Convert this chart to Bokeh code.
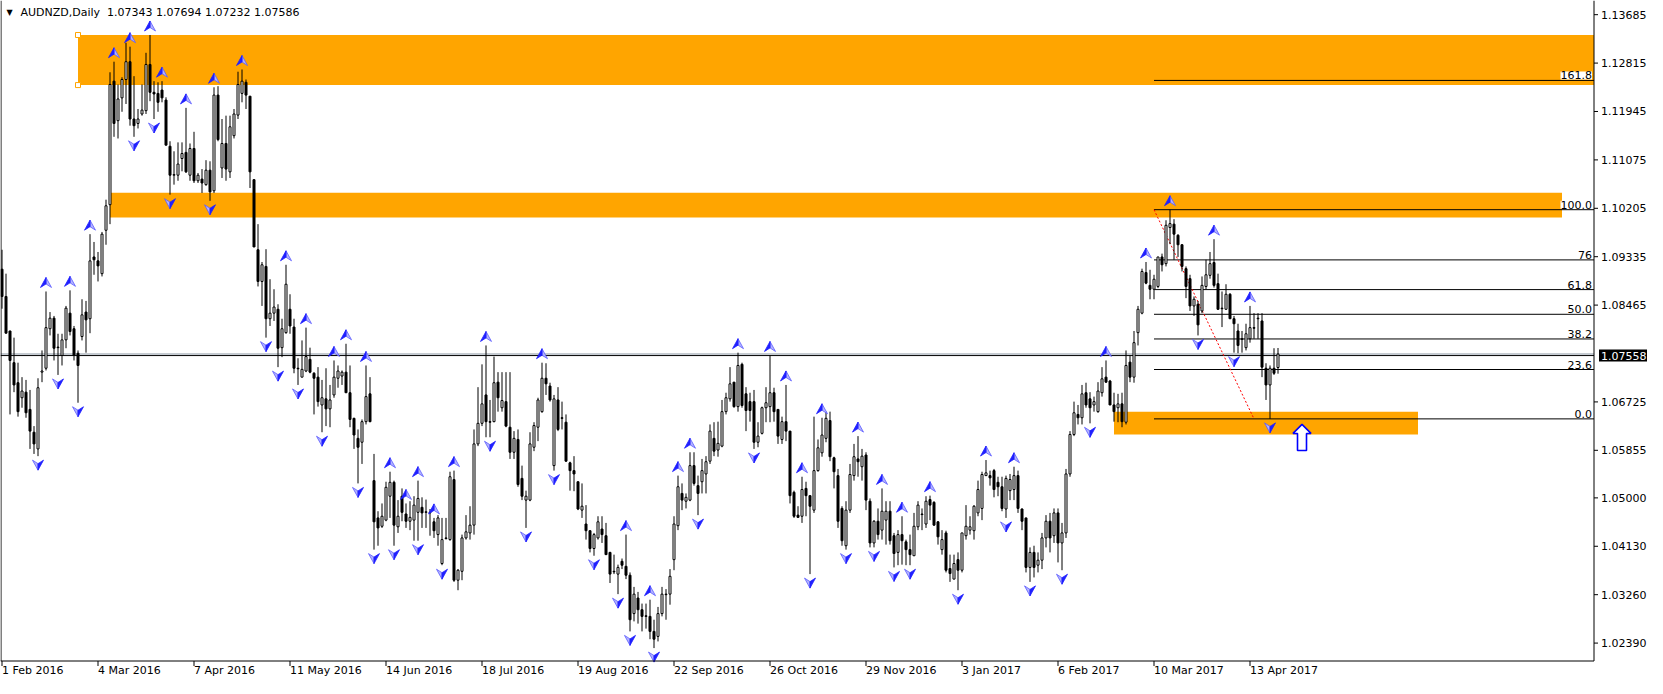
import numpy as np
from bokeh.plotting import figure
from bokeh.models import Range1d, Label, LabelSet, ColumnDataSource
from bokeh.embed import file_html
from bokeh.resources import INLINE
from bokeh.core.properties import value

# ---------------- data (AUDNZD daily) ----------------
opens = [
 1.0911,1.0862,1.0800,1.0743,1.0707,1.0680,1.0690,1.0659,1.0618,1.0588,
 1.0726,1.0733,1.0804,1.0823,1.0771,1.0756,1.0784,1.0832,1.0804,1.0760,
 1.0790,1.0834,1.0822,1.0933,1.0926,1.0903,1.0981,1.1027,1.1249,1.1178,
 1.1219,1.1252,1.1284,1.1181,1.1173,1.1190,1.1196,1.1279,1.1229,1.1227,
 1.1233,1.1215,1.1132,1.1080,1.1080,1.1110,1.1121,1.1080,1.1128,1.1070,
 1.1073,1.1063,1.1089,1.1052,1.1224,1.1093,1.1137,1.1086,1.1151,1.1188,
 1.1227,1.1247,1.1222,1.1072,1.0946,1.0889,1.0916,1.0822,1.0832,1.0839,
 1.0770,1.0797,1.0839,1.0807,1.0733,1.0717,1.0728,1.0749,1.0724,1.0717,
 1.0667,1.0678,1.0660,1.0685,1.0715,1.0719,1.0726,1.0689,1.0643,1.0607,
 1.0600,1.0637,1.0687,1.0531,1.0464,1.0449,1.0460,1.0503,1.0528,1.0448,
 1.0503,1.0471,1.0458,1.0460,1.0474,1.0483,1.0474,1.0474,1.0457,1.0434,
 1.0382,1.0428,1.0425,1.0533,1.0352,1.0368,1.0428,1.0437,1.0451,1.0597,
 1.0634,1.0685,1.0637,1.0637,1.0708,1.0662,1.0673,1.0627,1.0582,1.0605,
 1.0535,1.0496,1.0496,1.0591,1.0627,1.0655,1.0715,1.0701,1.0558,1.0676,
 1.0644,1.0636,1.0563,1.0549,1.0529,1.0478,1.0453,1.0441,1.0409,1.0428,
 1.0444,1.0432,1.0402,1.0368,1.0363,1.0386,1.0377,1.0361,1.0292,1.0320,
 1.0299,1.0288,1.0287,1.0260,1.0251,1.0292,1.0327,1.0327,1.0389,1.0450,
 1.0508,1.0494,1.0496,1.0558,1.0522,1.0529,1.0543,1.0566,1.0607,1.0586,
 1.0593,1.0655,1.0678,1.0708,1.0664,1.0740,1.0687,1.0673,1.0673,1.0600,
 1.0616,1.0662,1.0664,1.0689,1.0659,1.0605,1.0637,1.0620,1.0510,1.0469,
 1.0467,1.0517,1.0504,1.0478,1.0549,1.0581,1.0607,1.0639,1.0572,1.0540,
 1.0481,1.0414,1.0478,1.0540,1.0570,1.0556,1.0577,1.0494,1.0419,1.0458,
 1.0442,1.0460,1.0476,1.0432,1.0402,1.0434,1.0421,1.0407,1.0396,1.0448,
 1.0471,1.0453,1.0497,1.0492,1.0457,1.0407,1.0437,1.0373,1.0354,1.0389,
 1.0370,1.0432,1.0442,1.0441,1.0473,1.0481,1.0540,1.0540,1.0549,1.0528,
 1.0520,1.0480,1.0513,1.0515,1.0540,1.0480,1.0464,1.0375,1.0402,1.0379,
 1.0388,1.0428,1.0458,1.0432,1.0473,1.0419,1.0437,1.0543,1.0614,1.0650,
 1.0644,1.0689,1.0678,1.0667,1.0655,1.0689,1.0717,1.0710,1.0667,1.0662,
 1.0669,1.0636,1.0744,1.0717,1.0797,1.0832,1.0905,1.0882,1.0875,1.0880,
 1.0933,1.0921,1.0986,1.0992,1.0972,1.0955,1.0912,1.0894,1.0845,1.0848,
 1.0836,1.0880,1.0900,1.0923,1.0885,1.0841,1.0839,1.0866,1.0822,1.0800,
 1.0786,1.0770,1.0786,1.0806,1.0822,1.0818,1.0733,1.0703,1.0733,1.07343,
]
highs = [
 1.0946,1.0903,1.0800,1.0788,1.0743,1.0717,1.0712,1.0694,1.0629,1.0715,
 1.0765,1.0871,1.0834,1.0827,1.0795,1.0795,1.0845,1.0873,1.0809,1.0765,
 1.0857,1.0854,1.0974,1.0960,1.0942,1.0978,1.1036,1.1265,1.1284,1.1243,
 1.1256,1.1318,1.1311,1.1258,1.1199,1.1243,1.1300,1.1332,1.1249,1.1247,
 1.1249,1.1220,1.1141,1.1123,1.1139,1.1139,1.1201,1.1137,1.1158,1.1084,
 1.1091,1.1107,1.1105,1.1238,1.1240,1.1181,1.1187,1.1187,1.1199,1.1266,
 1.1270,1.1252,1.1222,1.1072,1.0992,1.0924,1.0947,1.0893,1.0875,1.0848,
 1.0822,1.0919,1.0866,1.0822,1.0751,1.0783,1.0806,1.0770,1.0726,1.0735,
 1.0712,1.0733,1.0703,1.0747,1.0738,1.0729,1.0777,1.0738,1.0644,1.0623,
 1.0641,1.0738,1.0717,1.0579,1.0476,1.0490,1.0529,1.0547,1.0531,1.0496,
 1.0517,1.0490,1.0494,1.0503,1.0531,1.0501,1.0497,1.0480,1.0464,1.0469,
 1.0464,1.0464,1.0547,1.0549,1.0372,1.0434,1.0469,1.0485,1.0623,1.0699,
 1.0740,1.0774,1.0676,1.0754,1.0726,1.0726,1.0726,1.0726,1.0620,1.0623,
 1.0558,1.0513,1.0618,1.0636,1.0680,1.0743,1.0742,1.0707,1.0685,1.0699,
 1.0673,1.0650,1.0565,1.0575,1.0529,1.0526,1.0487,1.0441,1.0437,1.0467,
 1.0467,1.0455,1.0403,1.0398,1.0380,1.0391,1.0434,1.0366,1.0340,1.0331,
 1.0310,1.0310,1.0317,1.0281,1.0304,1.0340,1.0336,1.0372,1.0467,1.0540,
 1.0526,1.0508,1.0582,1.0582,1.0540,1.0570,1.0575,1.0632,1.0636,1.0637,
 1.0676,1.0689,1.0735,1.0708,1.0761,1.0743,1.0699,1.0689,1.0694,1.0636,
 1.0664,1.0699,1.0756,1.0698,1.0659,1.0646,1.0703,1.0620,1.0513,1.0485,
 1.0538,1.0529,1.0504,1.0646,1.0605,1.0644,1.0655,1.0655,1.0574,1.0552,
 1.0485,1.0494,1.0561,1.0597,1.0611,1.0588,1.0582,1.0499,1.0460,1.0481,
 1.0517,1.0494,1.0494,1.0437,1.0442,1.0467,1.0425,1.0434,1.0473,1.0494,
 1.0481,1.0503,1.0504,1.0494,1.0458,1.0442,1.0441,1.0398,1.0398,1.0402,
 1.0437,1.0487,1.0467,1.0487,1.0531,1.0547,1.0568,1.0549,1.0552,1.0538,
 1.0538,1.0540,1.0543,1.0556,1.0549,1.0481,1.0464,1.0411,1.0414,1.0402,
 1.0437,1.0469,1.0473,1.0481,1.0481,1.0455,1.0552,1.0620,1.0673,1.0667,
 1.0703,1.0707,1.0690,1.0682,1.0708,1.0735,1.0747,1.0712,1.0689,1.0687,
 1.0689,1.0765,1.0756,1.0800,1.0845,1.0912,1.0924,1.0910,1.0901,1.0933,
 1.0939,1.0999,1.1018,1.1001,1.0974,1.0956,1.0916,1.0901,1.0862,1.0854,
 1.0898,1.0928,1.0942,1.0965,1.0903,1.0871,1.0884,1.0868,1.0827,1.0813,
 1.0800,1.0813,1.0845,1.0832,1.0832,1.0832,1.0742,1.0738,1.0769,1.07694,
]
lows = [
 1.0840,1.0796,1.0650,1.0690,1.0646,1.0662,1.0644,1.0588,1.0579,1.0575,
 1.0708,1.0729,1.0792,1.0747,1.0721,1.0738,1.0769,1.0792,1.0747,1.0671,
 1.0783,1.0761,1.0796,1.0901,1.0889,1.0898,1.0955,1.0992,1.1149,1.1146,
 1.1194,1.1208,1.1169,1.1149,1.1164,1.1187,1.1190,1.1213,1.1181,1.1194,
 1.1211,1.1134,1.1045,1.1063,1.1070,1.1087,1.1084,1.1070,1.1066,1.1066,
 1.1048,1.1061,1.1034,1.1048,1.1141,1.1075,1.1070,1.1075,1.1146,1.1181,
 1.1211,1.1199,1.1057,1.0951,1.0880,1.0845,1.0788,1.0809,1.0818,1.0735,
 1.0753,1.0795,1.0795,1.0724,1.0703,1.0717,1.0726,1.0724,1.0650,1.0664,
 1.0618,1.0629,1.0627,1.0680,1.0698,1.0703,1.0689,1.0627,1.0588,1.0526,
 1.0561,1.0632,1.0636,1.0407,1.0414,1.0446,1.0458,1.0464,1.0414,1.0437,
 1.0458,1.0446,1.0442,1.0423,1.0423,1.0446,1.0446,1.0432,1.0428,1.0414,
 1.0379,1.0425,1.0423,1.0349,1.0334,1.0352,1.0425,1.0425,1.0434,1.0593,
 1.0629,1.0609,1.0609,1.0636,1.0655,1.0655,1.0627,1.0570,1.0570,1.0520,
 1.0496,1.0446,1.0494,1.0584,1.0602,1.0653,1.0685,1.0673,1.0549,1.0620,
 1.0623,1.0565,1.0513,1.0512,1.0478,1.0464,1.0425,1.0402,1.0396,1.0425,
 1.0419,1.0398,1.0347,1.0363,1.0327,1.0372,1.0354,1.0260,1.0278,1.0274,
 1.0260,1.0265,1.0246,1.0230,1.0242,1.0287,1.0281,1.0308,1.0370,1.0442,
 1.0478,1.0481,1.0494,1.0522,1.0469,1.0508,1.0508,1.0561,1.0575,1.0574,
 1.0591,1.0650,1.0673,1.0662,1.0655,1.0662,1.0620,1.0637,1.0588,1.0591,
 1.0614,1.0636,1.0636,1.0637,1.0597,1.0597,1.0602,1.0490,1.0464,1.0464,
 1.0455,1.0467,1.0363,1.0473,1.0547,1.0574,1.0600,1.0566,1.0517,1.0446,
 1.0414,1.0407,1.0473,1.0531,1.0538,1.0531,1.0478,1.0411,1.0411,1.0425,
 1.0425,1.0416,1.0416,1.0375,1.0379,1.0380,1.0379,1.0379,1.0396,1.0442,
 1.0442,1.0446,1.0460,1.0450,1.0416,1.0398,1.0366,1.0349,1.0354,1.0334,
 1.0366,1.0425,1.0434,1.0425,1.0467,1.0460,1.0540,1.0522,1.0501,1.0503,
 1.0476,1.0464,1.0496,1.0496,1.0473,1.0442,1.0366,1.0349,1.0357,1.0366,
 1.0372,1.0411,1.0402,1.0419,1.0384,1.0370,1.0428,1.0538,1.0611,1.0632,
 1.0632,1.0662,1.0634,1.0655,1.0653,1.0682,1.0707,1.0667,1.0637,1.0636,
 1.0627,1.0632,1.0708,1.0707,1.0774,1.0830,1.0884,1.0857,1.0857,1.0877,
 1.0907,1.0916,1.0956,1.0928,1.0933,1.0907,1.0859,1.0836,1.0827,1.0792,
 1.0832,1.0875,1.0894,1.0878,1.0838,1.0807,1.0839,1.0822,1.0761,1.0760,
 1.0761,1.0765,1.0779,1.0786,1.0786,1.0717,1.0676,1.0642,1.0721,1.07232,
]
closes = [
 1.0862,1.0796,1.0747,1.0703,1.0655,1.0692,1.0653,1.0620,1.0597,1.0698,
 1.0728,1.0806,1.0823,1.0769,1.0770,1.0784,1.0841,1.0799,1.0756,1.0738,
 1.0829,1.0820,1.0926,1.0928,1.0917,1.0974,1.1025,1.1243,1.1173,1.1217,
 1.1252,1.1284,1.1181,1.1169,1.1181,1.1197,1.1279,1.1229,1.1226,1.1211,
 1.1219,1.1134,1.1080,1.1081,1.1100,1.1119,1.1086,1.1128,1.1070,1.1080,
 1.1066,1.1089,1.1050,1.1224,1.1144,1.1137,1.1091,1.1167,1.1190,1.1243,
 1.1249,1.1224,1.1086,1.0951,1.0889,1.0919,1.0822,1.0832,1.0843,1.0769,
 1.0804,1.0884,1.0809,1.0733,1.0732,1.0731,1.0754,1.0726,1.0715,1.0673,
 1.0680,1.0660,1.0676,1.0717,1.0728,1.0726,1.0689,1.0641,1.0613,1.0591,
 1.0637,1.0682,1.0637,1.0457,1.0446,1.0467,1.0519,1.0528,1.0451,1.0467,
 1.0474,1.0458,1.0465,1.0487,1.0499,1.0473,1.0475,1.0473,1.0441,1.0464,
 1.0425,1.0427,1.0538,1.0352,1.0370,1.0428,1.0439,1.0451,1.0597,1.0634,
 1.0669,1.0637,1.0636,1.0707,1.0680,1.0675,1.0629,1.0582,1.0607,1.0524,
 1.0503,1.0503,1.0597,1.0630,1.0676,1.0715,1.0705,1.0676,1.0678,1.0623,
 1.0643,1.0566,1.0549,1.0543,1.0480,1.0485,1.0441,1.0409,1.0434,1.0457,
 1.0434,1.0398,1.0363,1.0367,1.0375,1.0379,1.0361,1.0281,1.0327,1.0299,
 1.0287,1.0287,1.0260,1.0246,1.0292,1.0327,1.0326,1.0359,1.0453,1.0520,
 1.0496,1.0501,1.0558,1.0526,1.0508,1.0549,1.0565,1.0620,1.0584,1.0598,
 1.0655,1.0680,1.0705,1.0664,1.0738,1.0666,1.0657,1.0657,1.0600,1.0611,
 1.0662,1.0671,1.0689,1.0655,1.0611,1.0637,1.0620,1.0504,1.0467,1.0465,
 1.0515,1.0504,1.0485,1.0549,1.0590,1.0613,1.0643,1.0574,1.0547,1.0458,
 1.0423,1.0478,1.0542,1.0574,1.0565,1.0575,1.0496,1.0419,1.0458,1.0434,
 1.0476,1.0476,1.0423,1.0400,1.0434,1.0423,1.0407,1.0398,1.0449,1.0487,
 1.0470,1.0494,1.0487,1.0451,1.0430,1.0425,1.0370,1.0364,1.0382,1.0370,
 1.0437,1.0449,1.0448,1.0485,1.0515,1.0542,1.0545,1.0536,1.0515,1.0520,
 1.0481,1.0535,1.0533,1.0540,1.0481,1.0458,1.0375,1.0402,1.0375,1.0388,
 1.0428,1.0458,1.0428,1.0473,1.0419,1.0437,1.0543,1.0614,1.0653,1.0644,
 1.0687,1.0667,1.0662,1.0673,1.0692,1.0714,1.0708,1.0667,1.0655,1.0669,
 1.0637,1.0738,1.0717,1.0779,1.0839,1.0907,1.0886,1.0875,1.0893,1.0933,
 1.0919,1.0990,1.0993,1.0974,1.0955,1.0916,1.0880,1.0845,1.0857,1.0811,
 1.0882,1.0901,1.0921,1.0882,1.0839,1.0840,1.0866,1.0822,1.0813,1.0774,
 1.0785,1.0795,1.0806,1.0805,1.0823,1.0735,1.0703,1.0733,1.0724,1.07586,
]

date_tick_bars = [0, 24, 48, 72, 96, 120, 144, 168, 192, 216, 240, 264, 288, 312]
date_tick_labels = ["1 Feb 2016", "4 Mar 2016", "7 Apr 2016", "11 May 2016", "14 Jun 2016",
                    "18 Jul 2016", "19 Aug 2016", "22 Sep 2016", "26 Oct 2016", "29 Nov 2016",
                    "3 Jan 2017", "6 Feb 2017", "10 Mar 2017", "13 Apr 2017"]
price_ticks = [1.13685, 1.12815, 1.11945, 1.11075, 1.10205, 1.09335, 1.08465,
               1.06725, 1.05855, 1.05000, 1.04130, 1.03260, 1.02390]
price_tick_labels = ["1.13685", "1.12815", "1.11945", "1.11075", "1.10205", "1.09335", "1.08465",
                     "1.06725", "1.05855", "1.05000", "1.04130", "1.03260", "1.02390"]

up_fractals = [11, 17, 22, 28, 32, 37, 40, 46, 53, 60, 71, 76, 83, 86, 91, 97, 101, 104, 108,
               113, 121, 135, 156, 162, 169, 172, 184, 192, 196, 200, 205, 214, 220, 225, 232,
               246, 253, 276, 286, 292, 303, 312]
down_fractals = [9, 14, 19, 33, 38, 42, 52, 66, 69, 74, 80, 89, 93, 98, 104, 110, 122, 131, 138,
                 148, 154, 157, 163, 174, 188, 202, 211, 218, 223, 227, 239, 251, 257, 265, 272,
                 299, 308, 317]

zone_left = [19, 27, 278]
zone_right = [420, 390, 354]
zone_top = [1.1332, 1.10485, 1.0655]
zone_bottom = [1.1242, 1.1004, 1.0614]

fib_high = 1.1018
fib_low = 1.0642
fib_start_bar = 288
fib_end_bar = 313
fib_levels = [0.0, 23.6, 38.2, 50.0, 61.8, 76.0, 100.0, 161.8]
fib_texts = ["0.0", "23.6", "38.2", "50.0", "61.8", "76", "100.0", "161.8"]

bid_price = 1.07558
hline_price = 1.07586
signal_bar = 325
signal_price = 1.0632
header_text = "AUDNZD,Daily\u00a0 1.07343 1.07694 1.07232 1.07586"

# price window of the chart pane
pane_top_price = 1.1394
pane_bottom_price = 1.02068

# ---------------- layout / styling ----------------
FONT = "DejaVu Sans"
W, H = 1647, 678
AXIS_X_PX, AXIS_Y_PX = 1593.5, 660.5      # chart-pane border (px from canvas left / top)
PX_X = 0.25                               # 4 px per daily bar
X0 = -0.375
X1 = X0 + W * PX_X
X_AX = X0 + AXIS_X_PX * PX_X
PX_Y = (pane_top_price - pane_bottom_price) / AXIS_Y_PX
Y1 = pane_top_price
Y0 = Y1 - H * PX_Y
Y_AX = pane_bottom_price

o = np.array(opens); h = np.array(highs); l = np.array(lows); c = np.array(closes)
idx = np.arange(len(o))

p = figure(width=W, height=H, x_range=Range1d(X0, X1), y_range=Range1d(Y0, Y1),
           output_backend="svg", toolbar_location=None,
           x_axis_location=None, y_axis_location=None,
           min_border=0, min_border_left=0, min_border_right=0, min_border_top=0, min_border_bottom=0)
p.grid.visible = False
p.outline_line_color = None
p.background_fill_color = "white"
p.border_fill_color = "white"

# zones
p.quad(left=zone_left, right=np.minimum(zone_right, X_AX), top=zone_top, bottom=zone_bottom,
       fill_color="#FFA500", line_color=None)
p.scatter(x=[zone_left[0], zone_left[0]], y=[zone_top[0], zone_bottom[0]], marker="square",
          size=5, fill_color="white", line_color="#FFA500", line_width=1)

# horizontal price lines
p.segment(x0=X0, x1=X_AX, y0=[hline_price, bid_price], y1=[hline_price, bid_price],
          line_color=["#8a96a3", "black"], line_width=1)

# fibonacci
lv = fib_low + (fib_high - fib_low) * np.array(fib_levels) / 100.0
p.segment(x0=fib_start_bar, x1=X_AX, y0=lv, y1=lv, line_color="black", line_width=1)
p.line([fib_start_bar, fib_end_bar], [fib_high, fib_low], line_color="red", line_dash="2 2", line_width=1)

# candles
p.segment(idx, l, idx, h, line_color="black", line_width=1)
bull = c >= o
p.vbar(x=idx[bull], width=0.5, top=c[bull], bottom=o[bull], fill_color="white",
       line_color="black", line_width=1)
p.vbar(x=idx[~bull], width=0.5, top=o[~bull], bottom=c[~bull], fill_color="black",
       line_color="black", line_width=1)

# fractal arrows
def arrows(bars, anchors, d):
    dk_x, dk_y, lt_x, lt_y = [], [], [], []
    for b, a in zip(bars, anchors):
        apex = (b, a + d * 14 * PX_Y)
        lw = (b - 5.5 * PX_X, a + d * 4 * PX_Y)
        rw = (b + 5.5 * PX_X, a + d * 4 * PX_Y)
        notch = (b, a + d * 7.5 * PX_Y)
        left_half = [apex, lw, notch]
        right_half = [apex, notch, rw]
        dark, light = (left_half, right_half) if d > 0 else (right_half, left_half)
        dk_x.append([q[0] for q in dark]); dk_y.append([q[1] for q in dark])
        lt_x.append([q[0] for q in light]); lt_y.append([q[1] for q in light])
    p.patches(lt_x, lt_y, fill_color="#b4b4ff", line_color="#5a5aff", line_width=0.8)
    p.patches(dk_x, dk_y, fill_color="#2020ff", line_color="#2020ff", line_width=0.8)

arrows(up_fractals, h[up_fractals], 1)
arrows(down_fractals, l[down_fractals], -1)

# hollow signal arrow
shape = [(0, 0), (9, -9), (4.5, -9), (4.5, -26), (-4.5, -26), (-4.5, -9), (-9, -9)]
p.patch([signal_bar + sx * PX_X for sx, sy in shape], [signal_price + sy * PX_Y for sx, sy in shape],
        fill_color="white", line_color="#0000ff", line_width=1.6)

# fib labels
fsrc = ColumnDataSource(dict(x=[X_AX - 2 * PX_X] * len(lv), y=list(lv + 1 * PX_Y), t=fib_texts))
p.add_layout(LabelSet(x="x", y="y", text="t", source=fsrc,
                      text_align="right", text_baseline="bottom", text_font=value(FONT),
                      text_font_size=value("11px"), text_color="black",
                      background_fill_color="white"))

# pane border and axes (left border, right price scale, bottom time scale)
p.segment(x0=[X0 + 0.5 * PX_X, X_AX, X0], x1=[X0 + 0.5 * PX_X, X_AX, X_AX],
          y0=[Y_AX, Y_AX, Y_AX], y1=[Y1, Y1, Y_AX], line_color="black", line_width=1)
p.segment(x0=X_AX, x1=X_AX + 4 * PX_X, y0=price_ticks, y1=price_ticks, line_color="black", line_width=1)
p.segment(x0=date_tick_bars, x1=date_tick_bars, y0=Y_AX, y1=Y_AX - 5 * PX_Y, line_color="black", line_width=1)
p.text(x=X_AX + 7 * PX_X, y=price_ticks, text=price_tick_labels, text_align="left",
       text_baseline="middle", text_font=value(FONT), text_font_size=value("11px"), text_color="black")
p.text(x=date_tick_bars, y=Y_AX - 2.5 * PX_Y, text=date_tick_labels, text_align="left",
       text_baseline="top", text_font=value(FONT), text_font_size=value("11px"), text_color="black")

# header + current price label
p.add_layout(Label(x=X0 + 6 * PX_X, y=Y1 - 7 * PX_Y, text="\u25bc", text_baseline="top",
                   text_font=FONT, text_font_size="8px", text_color="black"))
p.add_layout(Label(x=X0 + 20 * PX_X, y=Y1 - 5 * PX_Y, text=header_text, text_baseline="top",
                   text_font=FONT, text_font_size="11px", text_color="black"))
p.add_layout(Label(x=X_AX + 5 * PX_X, y=bid_price, text="1.07558", text_baseline="middle",
                   text_align="left", text_font=FONT, text_font_size="11px", text_color="white",
                   background_fill_color="black", padding=2))

open("out.html", "w").write(file_html(p, INLINE, "AUDNZD,Daily"))
